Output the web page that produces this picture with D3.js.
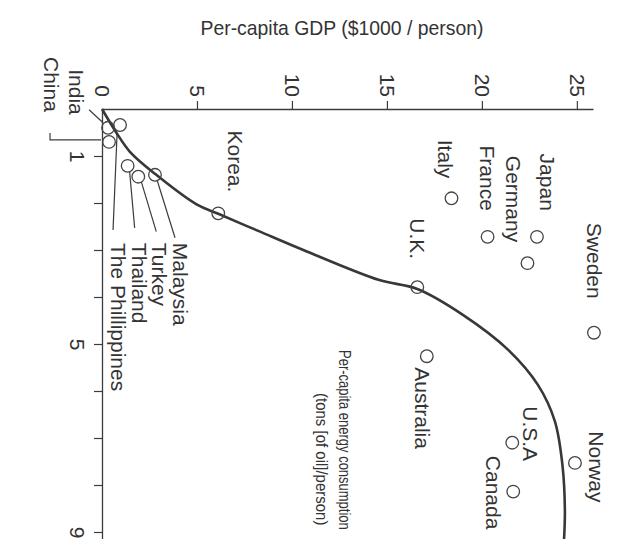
<!DOCTYPE html>
<html>
<head>
<meta charset="utf-8" />
<title>Per-capita GDP vs energy</title>
<script src="https://d3js.org/d3.v7.min.js"></script>
<style>
  body { margin: 0; background: #fff; }
  text { font-family: "Liberation Sans", Arial, sans-serif; fill: #333; }
</style>
</head>
<body>
<svg width="620" height="539"></svg>
<script>
// data
const countries = ["India", "China", "The Phillippines", "Thailand", "Turkey", "Malaysia", "Korea.",
  "Italy", "France", "Japan", "Germany", "U.K.", "Sweden", "Australia", "U.S.A", "Norway", "Canada"];
const gdp    = [0.32, 0.37, 0.95, 1.35, 1.91, 2.79, 6.12, 18.4, 20.3, 22.9, 22.4, 16.6, 25.9, 17.1, 21.6, 24.9, 21.65];
const energy = [0.40, 0.70, 0.34, 1.21, 1.44, 1.40, 2.22, 1.90, 2.72, 2.72, 3.28, 3.79, 4.76, 5.26, 7.10, 7.53, 8.14];

const curveGdp    = [0, 0.8, 1.47, 2.79, 4.98, 6.12, 8.32, 10.6, 14.6, 16.6, 19.0, 21.4, 22.95, 23.84, 24.24, 24.37, 24.32];
const curveEnergy = [0, 0.53, 0.91, 1.38, 2.03, 2.23, 2.61, 3.0, 3.64, 3.83, 4.38, 5.13, 5.87, 6.64, 7.57, 8.53, 9.2];

const gdpTicks = [0, 5, 10, 15, 20, 25];
const energyTicks = [1, 2, 3, 4, 5, 6, 7, 8, 9];
const energyTickLabels = [1, 5, 9];

const svg = d3.select("svg");
const ink = "#3c3c3c";
const fs = 21;

const x = d3.scaleLinear().domain([0, 25.85]).range([102, 593]);
const y = d3.scaleLinear().domain([0, 9.25]).range([109, 543.75]);

// top axis (GDP)
const xAxisG = svg.append("g")
  .attr("transform", "translate(0," + y(0) + ")")
  .call(d3.axisTop(x).tickValues(gdpTicks).tickSize(8).tickSizeOuter(0));
xAxisG.select(".domain").attr("stroke", ink).attr("stroke-width", 1.3);
xAxisG.selectAll(".tick line").attr("stroke", ink).attr("stroke-width", 1.2);
xAxisG.selectAll(".tick").filter(d => d === 0).select("line").remove();
xAxisG.selectAll(".tick text")
  .attr("font-size", fs)
  .attr("fill", "#333")
  .attr("text-anchor", "end")
  .attr("transform", "translate(0,-12) rotate(90)")
  .attr("x", 0).attr("y", 0).attr("dy", "0.35em");

// left axis (energy)
const yAxisG = svg.append("g")
  .attr("transform", "translate(" + x(0) + ",0)")
  .call(d3.axisLeft(y).tickValues(energyTicks).tickSize(8).tickSizeOuter(0)
    .tickFormat(d => energyTickLabels.includes(d) ? d : ""));
yAxisG.select(".domain").attr("stroke", ink).attr("stroke-width", 1.3);
yAxisG.selectAll(".tick line").attr("stroke", ink).attr("stroke-width", 1.2);
yAxisG.selectAll(".tick text")
  .attr("font-size", fs)
  .attr("fill", "#333")
  .attr("text-anchor", "middle")
  .attr("transform", "translate(-25,0) rotate(90)")
  .attr("x", 0).attr("y", 0).attr("dy", "0.35em");

// axis titles
svg.append("text")
  .attr("x", 342).attr("y", 35)
  .attr("text-anchor", "middle")
  .attr("font-size", 21)
  .attr("textLength", 283).attr("lengthAdjust", "spacingAndGlyphs")
  .text("Per-capita GDP  ($1000 / person)");

svg.append("text")
  .attr("font-size", 13)
  .attr("dy", "0.35em")
  .attr("transform", "translate(345,350) rotate(90) scale(1,1.25)")
  .text("Per-capita energy consumption");
svg.append("text")
  .attr("font-size", 15)
  .attr("dy", "0.35em")
  .attr("transform", "translate(322,393) rotate(90) scale(1,1.1)")
  .text("(tons [of oil]/person)");

// fitted curve
const curvePts = curveGdp.map((g, i) => ({ g: g, e: curveEnergy[i] }));
svg.append("path")
  .datum(curvePts)
  .attr("fill", "none")
  .attr("stroke", "#383838")
  .attr("stroke-width", 2.6)
  .attr("d", d3.line().x(d => x(d.g)).y(d => y(d.e)).curve(d3.curveCatmullRom.alpha(0.5)));

const pts = countries.map((c, i) => ({ name: c, g: gdp[i], e: energy[i] }));

// label placement relative to each circle (pixels)
const labelPos = {
  "India": { dx: -32, dy: -13, anchor: "end" },
  "China": { dx: -58, dy: -30, anchor: "end" },
  "The Phillippines": { dx: -2, dy: 118, anchor: "start" },
  "Thailand": { dx: 12, dy: 77, anchor: "start" },
  "Turkey": { dx: 21, dy: 66, anchor: "start" },
  "Malaysia": { dx: 25, dy: 68, anchor: "start" },
  "Korea.": { dx: 17, dy: -21, anchor: "end" },
  "Italy": { dx: -6, dy: -20, anchor: "end" },
  "France": { dx: 0, dy: -26, anchor: "end" },
  "Japan": { dx: 10, dy: -26, anchor: "end" },
  "Germany": { dx: -14, dy: -21, anchor: "end" },
  "U.K.": { dx: 0, dy: -28, anchor: "end" },
  "Sweden": { dx: 0, dy: -34, anchor: "end" },
  "Australia": { dx: -4, dy: 11, anchor: "start" },
  "U.S.A": { dx: 18, dy: -9, anchor: "middle" },
  "Norway": { dx: 21, dy: 4, anchor: "middle" },
  "Canada": { dx: -20, dy: 1, anchor: "middle" }
};

// leader lines for the crowded countries near the origin
const leaders = {
  "The Phillippines": [[-3, 9], [-7, 105]],
  "Thailand": [[2, 6], [7, 62]],
  "Turkey": [[3, 5], [18, 55]],
  "Malaysia": [[2, 5], [20, 63]],
  "India": [[-19, -18], [-5, -5]]
};

const g = svg.append("g");
pts.forEach(p => {
  const px = x(p.g), py = y(p.e);
  const l = leaders[p.name];
  if (l) {
    g.append("line")
      .attr("x1", px + l[0][0]).attr("y1", py + l[0][1])
      .attr("x2", px + l[1][0]).attr("y2", py + l[1][1])
      .attr("stroke", ink).attr("stroke-width", 1.2);
  }
});

// China bracket
const china = pts.find(p => p.name === "China");
g.append("path")
  .attr("fill", "none").attr("stroke", ink).attr("stroke-width", 1.2)
  .attr("d", "M" + (x(china.g) - 59) + "," + (y(china.e) - 9) +
             "V" + (y(china.e) - 2) + "H" + (x(china.g) - 8));

g.selectAll("circle")
  .data(pts)
  .enter()
  .append("circle")
  .attr("cx", d => x(d.g))
  .attr("cy", d => y(d.e))
  .attr("r", 6.3)
  .attr("fill", "none")
  .attr("stroke", "#444")
  .attr("stroke-width", 1.3);

g.selectAll("text.lab")
  .data(pts)
  .enter()
  .append("text")
  .attr("class", "lab")
  .attr("font-size", fs)
  .attr("text-anchor", d => labelPos[d.name].anchor)
  .attr("dy", "0.35em")
  .attr("transform", d => "translate(" + (x(d.g) + labelPos[d.name].dx) + "," +
        (y(d.e) + labelPos[d.name].dy) + ") rotate(90)")
  .text(d => d.name);
</script>
</body>
</html>
